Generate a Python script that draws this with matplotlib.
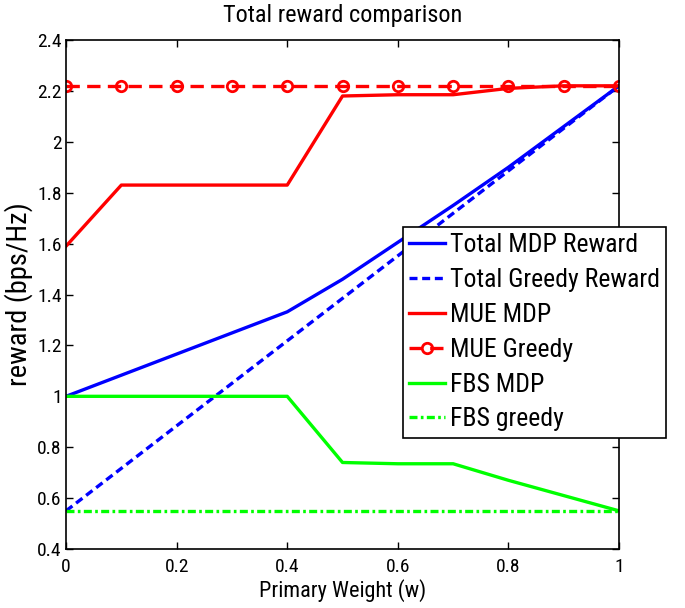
import matplotlib
matplotlib.use("Agg")
import matplotlib.pyplot as plt

# primary weight values
w = [0.0, 0.1, 0.2, 0.3, 0.4, 0.5, 0.6, 0.7, 0.8, 0.9, 1.0]

total_mdp = [1.00, 1.083, 1.166, 1.249, 1.332, 1.46, 1.605, 1.75, 1.90, 2.06, 2.22]
total_greedy = [0.55, 0.717, 0.884, 1.051, 1.218, 1.385, 1.552, 1.719, 1.886, 2.053, 2.22]
mue_mdp = [1.59, 1.83, 1.83, 1.83, 1.83, 2.18, 2.185, 2.185, 2.21, 2.22, 2.22]
mue_greedy = [2.22, 2.22, 2.22, 2.22, 2.22, 2.22, 2.22, 2.22, 2.22, 2.22, 2.22]
fbs_mdp = [1.00, 1.00, 1.00, 1.00, 1.00, 0.74, 0.735, 0.735, 0.67, 0.61, 0.55]
fbs_greedy = [0.55, 0.55, 0.55, 0.55, 0.55, 0.55, 0.55, 0.55, 0.55, 0.55, 0.55]

xticks = [0, 0.2, 0.4, 0.6, 0.8, 1]
xticklabels = ["0", "0.2", "0.4", "0.6", "0.8", "1"]
yticks = [0.4, 0.6, 0.8, 1.0, 1.2, 1.4, 1.6, 1.8, 2.0, 2.2, 2.4]
yticklabels = ["0.4", "0.6", "0.8", "1", "1.2", "1.4", "1.6", "1.8", "2", "2.2", "2.4"]


def main():
    plt.rcParams["font.family"] = ["Roboto Condensed", "DejaVu Sans"]

    fig = plt.figure(figsize=(6.85, 6.08), dpi=100)
    ax = fig.add_axes([0.0964, 0.097, 0.8073, 0.8372])

    lw = 2.4
    ax.plot(w, total_mdp, color="#0000ff", lw=lw, label="Total MDP Reward")
    ax.plot(w, total_greedy, color="#0000ff", lw=lw, ls=(0, (2.4, 1.4)),
            label="Total Greedy Reward")
    ax.plot(w, mue_mdp, color="#ff0000", lw=lw, label="MUE MDP")
    ax.plot(w, mue_greedy, color="#ff0000", lw=lw, ls=(0, (4, 2.2)),
            marker="o", ms=7.5, mfc="none", mec="#ff0000", mew=2,
            label="MUE Greedy")
    ax.plot(w, fbs_mdp, color="#00ff00", lw=lw, label="FBS MDP")
    ax.plot(w, fbs_greedy, color="#00ff00", lw=lw,
            ls=(0, (2.4, 1.0, 0.8, 1.0)), label="FBS greedy")

    ax.set_xlim(0, 1)
    ax.set_ylim(0.4, 2.4)
    ax.set_xticks(xticks)
    ax.set_xticklabels(xticklabels)
    ax.set_yticks(yticks)
    ax.set_yticklabels(yticklabels)
    ax.tick_params(direction="in", top=True, right=True, labelsize=14,
                   length=5, width=1, pad=3)
    ax.tick_params(axis="x", pad=6.5)
    for s in ax.spines.values():
        s.set_linewidth(1.2)

    ax.set_title("Total reward comparison", fontsize=17.5, pad=13)
    ax.set_xlabel("Primary Weight (w)", fontsize=16, labelpad=2)
    ax.set_ylabel("reward (bps/Hz)", fontsize=20.5, labelpad=3)

    leg = ax.legend(loc="upper left", bbox_to_anchor=(0.5883, 0.6266),
                    bbox_transform=fig.transFigure, fontsize=18.5,
                    fancybox=False, framealpha=1, edgecolor="black",
                    handlelength=1.4, handletextpad=0.17, labelspacing=0.42,
                    borderpad=0.25, borderaxespad=0)
    leg.get_frame().set_linewidth(1.2)

    fig.savefig("out.png", dpi=100)


if __name__ == "__main__":
    main()
